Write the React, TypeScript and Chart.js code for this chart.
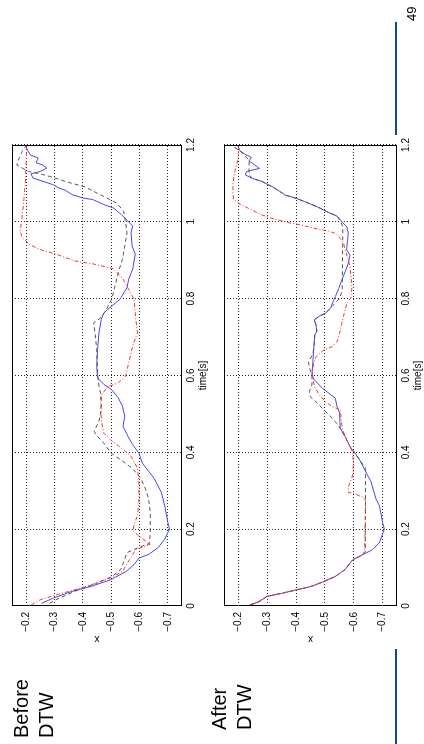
import React, { useEffect, useRef } from "react";
import { Chart, registerables } from "chart.js";

Chart.register(...registerables);

const FONT = "'Liberation Sans', Arial, Helvetica, sans-serif";

// ---- axes ----
const X_MIN = 0;
const X_MAX = 1.2;
const Y_MIN = -0.75;
const Y_MAX = -0.15;
const X_TICKS = [0, 0.2, 0.4, 0.6, 0.8, 1, 1.2];
const X_TICK_LABELS = ["0", "0.2", "0.4", "0.6", "0.8", "1", "1.2"];
const Y_TICKS = [-0.7, -0.6, -0.5, -0.4, -0.3, -0.2];
const Y_TICK_LABELS = ["\u22120.7", "\u22120.6", "\u22120.5", "\u22120.4", "\u22120.3", "\u22120.2"];
const X_TITLE = "time[s]";
const Y_TITLE = "x";

// ---- series: [time, x] ----
const BEFORE_BLUE: [number, number][] = [
  [0.007, -0.254], [0.02, -0.294], [0.038, -0.361], [0.051, -0.429], [0.068, -0.497], [0.09, -0.553],
  [0.108, -0.581], [0.125, -0.598], [0.134, -0.632], [0.152, -0.666], [0.174, -0.689], [0.2, -0.706],
  [0.218, -0.7], [0.261, -0.689], [0.296, -0.677], [0.332, -0.652], [0.372, -0.61], [0.398, -0.598],
  [0.42, -0.576], [0.442, -0.559], [0.468, -0.542], [0.494, -0.548], [0.52, -0.54], [0.542, -0.525],
  [0.563, -0.502], [0.577, -0.474], [0.594, -0.452], [0.624, -0.449], [0.668, -0.452], [0.711, -0.457],
  [0.746, -0.465], [0.763, -0.474], [0.781, -0.502], [0.798, -0.531], [0.829, -0.556], [0.851, -0.562],
  [0.877, -0.576], [0.916, -0.585], [0.937, -0.574], [0.972, -0.57], [0.989, -0.576], [1.004, -0.556],
  [1.019, -0.536], [1.036, -0.508], [1.045, -0.474], [1.058, -0.435], [1.062, -0.401], [1.071, -0.361],
  [1.082, -0.339], [1.088, -0.316], [1.097, -0.294], [1.108, -0.249], [1.114, -0.224], [1.125, -0.217],
  [1.131, -0.249], [1.14, -0.273], [1.148, -0.258], [1.154, -0.235], [1.166, -0.243], [1.174, -0.215],
  [1.185, -0.206], [1.198, -0.198],
];
const BEFORE_GRAY: [number, number][] = [
  [0.007, -0.282], [0.02, -0.316], [0.038, -0.37], [0.058, -0.445], [0.077, -0.503], [0.095, -0.534],
  [0.139, -0.556], [0.152, -0.596], [0.163, -0.635], [0.191, -0.638], [0.244, -0.638], [0.279, -0.632],
  [0.305, -0.621], [0.332, -0.605], [0.358, -0.575], [0.38, -0.535], [0.398, -0.5], [0.424, -0.474],
  [0.446, -0.446], [0.455, -0.44], [0.481, -0.457], [0.511, -0.465], [0.546, -0.465], [0.572, -0.457],
  [0.607, -0.452], [0.668, -0.449], [0.711, -0.443], [0.737, -0.438], [0.75, -0.463], [0.768, -0.48],
  [0.799, -0.502], [0.834, -0.514], [0.868, -0.525], [0.903, -0.54], [0.937, -0.548], [0.972, -0.556],
  [0.997, -0.551], [1.028, -0.544], [1.049, -0.519], [1.066, -0.474], [1.091, -0.407], [1.105, -0.339],
  [1.116, -0.294], [1.125, -0.249], [1.131, -0.209], [1.14, -0.186], [1.148, -0.167], [1.166, -0.175],
  [1.183, -0.186], [1.196, -0.198],
];
const BEFORE_RED: [number, number][] = [
  [0.003, -0.218], [0.016, -0.249], [0.029, -0.305], [0.04, -0.361], [0.055, -0.429], [0.073, -0.497],
  [0.09, -0.54], [0.121, -0.565], [0.147, -0.587], [0.161, -0.638], [0.182, -0.598], [0.196, -0.578],
  [0.213, -0.581], [0.235, -0.593], [0.27, -0.598], [0.323, -0.598], [0.358, -0.593], [0.39, -0.57],
  [0.411, -0.536], [0.433, -0.497], [0.45, -0.474], [0.485, -0.465], [0.546, -0.463], [0.57, -0.486],
  [0.581, -0.525], [0.598, -0.551], [0.633, -0.562], [0.677, -0.576], [0.711, -0.593], [0.746, -0.587],
  [0.798, -0.581], [0.851, -0.542], [0.878, -0.508], [0.89, -0.44], [0.898, -0.373], [0.916, -0.305],
  [0.928, -0.249], [0.941, -0.212], [0.959, -0.186], [0.976, -0.179], [1.015, -0.186], [1.058, -0.192],
  [1.109, -0.198], [1.161, -0.2], [1.196, -0.203],
];

const AFTER_BLUE: [number, number][] = [
  [0.003, -0.243], [0.011, -0.271], [0.025, -0.299], [0.033, -0.35], [0.042, -0.401], [0.051, -0.452],
  [0.064, -0.497], [0.077, -0.536], [0.095, -0.57], [0.112, -0.587], [0.121, -0.598], [0.134, -0.632],
  [0.147, -0.666], [0.165, -0.689], [0.2, -0.706], [0.218, -0.7], [0.261, -0.689], [0.279, -0.677],
  [0.323, -0.66], [0.346, -0.644], [0.38, -0.621], [0.398, -0.604], [0.415, -0.587], [0.441, -0.57],
  [0.463, -0.553], [0.502, -0.551], [0.519, -0.542], [0.541, -0.536], [0.567, -0.491], [0.589, -0.463],
  [0.602, -0.455], [0.623, -0.457], [0.667, -0.461], [0.706, -0.465], [0.715, -0.472], [0.732, -0.469],
  [0.745, -0.463], [0.754, -0.48], [0.762, -0.502], [0.775, -0.519], [0.797, -0.531], [0.805, -0.536],
  [0.827, -0.548], [0.849, -0.559], [0.87, -0.57], [0.892, -0.581], [0.914, -0.587], [0.927, -0.575],
  [0.948, -0.578], [0.97, -0.581], [0.987, -0.576], [1.0, -0.559], [1.015, -0.542], [1.026, -0.508],
  [1.039, -0.474], [1.053, -0.429], [1.061, -0.401], [1.07, -0.361], [1.079, -0.344], [1.092, -0.316],
  [1.105, -0.282], [1.113, -0.249], [1.122, -0.224], [1.131, -0.228], [1.139, -0.273], [1.152, -0.249],
  [1.159, -0.237], [1.168, -0.245], [1.177, -0.22], [1.187, -0.203], [1.2, -0.198],
];
const AFTER_GRAY: [number, number][] = [
  [0.003, -0.243], [0.011, -0.271], [0.025, -0.299], [0.033, -0.35], [0.042, -0.401], [0.051, -0.452],
  [0.064, -0.497], [0.077, -0.536], [0.095, -0.57], [0.112, -0.587], [0.121, -0.598], [0.134, -0.632],
  [0.14, -0.64], [0.358, -0.641], [0.38, -0.621], [0.398, -0.604], [0.415, -0.587], [0.441, -0.57],
  [0.463, -0.553], [0.48, -0.536], [0.502, -0.508], [0.528, -0.474], [0.545, -0.449], [0.558, -0.446],
  [0.576, -0.455], [0.597, -0.455], [0.623, -0.446], [0.636, -0.443], [0.654, -0.457], [0.667, -0.461],
  [0.706, -0.465], [0.715, -0.472], [0.732, -0.469], [0.745, -0.463], [0.754, -0.48], [0.762, -0.502],
  [0.78, -0.525], [0.8, -0.55], [0.82, -0.56], [0.987, -0.562], [1.0, -0.555], [1.015, -0.542],
  [1.026, -0.508], [1.039, -0.474], [1.053, -0.429], [1.061, -0.401], [1.07, -0.361], [1.079, -0.344],
  [1.092, -0.316], [1.105, -0.282], [1.113, -0.249], [1.122, -0.237], [1.161, -0.237], [1.174, -0.22],
  [1.187, -0.203], [1.196, -0.18],
];
const AFTER_RED: [number, number][] = [
  [0.003, -0.238], [0.011, -0.268], [0.025, -0.299], [0.033, -0.35], [0.042, -0.401], [0.051, -0.452],
  [0.064, -0.497], [0.077, -0.536], [0.095, -0.57], [0.112, -0.587], [0.121, -0.598], [0.134, -0.632],
  [0.143, -0.638], [0.275, -0.641], [0.283, -0.632], [0.292, -0.604], [0.296, -0.581], [0.31, -0.581],
  [0.332, -0.593], [0.349, -0.598], [0.38, -0.598], [0.4, -0.596], [0.415, -0.587], [0.441, -0.57],
  [0.463, -0.56], [0.511, -0.553], [0.519, -0.525], [0.532, -0.502], [0.55, -0.48], [0.57, -0.465],
  [0.589, -0.458], [0.61, -0.457], [0.632, -0.461], [0.649, -0.469], [0.667, -0.497], [0.675, -0.525],
  [0.688, -0.542], [0.71, -0.551], [0.736, -0.559], [0.762, -0.567], [0.788, -0.576], [0.805, -0.593],
  [0.84, -0.593], [0.883, -0.587], [0.901, -0.581], [0.927, -0.57], [0.944, -0.565], [0.957, -0.553],
  [0.97, -0.536], [0.976, -0.513], [0.984, -0.457], [0.993, -0.412], [0.997, -0.379], [1.01, -0.312],
  [1.019, -0.278], [1.036, -0.233], [1.049, -0.2], [1.059, -0.183], [1.074, -0.181], [1.1, -0.181],
  [1.126, -0.186], [1.144, -0.192], [1.161, -0.198], [1.178, -0.2], [1.196, -0.203],
];

const BLUE = "rgb(70,70,245)";
const GRAY = "rgb(85,85,85)";
const RED = "rgb(255,50,50)";
const GRID = "rgba(0,0,0,0.85)";
const SLIDE_BLUE = "#0b4a99";

const toPts = (s: [number, number][]) => s.map(([x, y]) => ({ x, y }));

const framePlugin = {
  id: "frame",
  afterDraw(chart: any) {
    const { ctx, chartArea: a } = chart;
    ctx.save();
    ctx.strokeStyle = "#000";
    ctx.lineWidth = 1;
    ctx.setLineDash([]);
    const l = Math.round(a.left) + 0.5;
    const t = Math.round(a.top) + 0.5;
    const r = Math.round(a.right) - 0.5;
    const b = Math.round(a.bottom) - 0.5;
    ctx.strokeRect(l, t, r - l, b - t);
    ctx.restore();
  },
};

type PanelProps = {
  blue: [number, number][];
  gray: [number, number][];
  red: [number, number][];
  width: number;
  height: number;
  padTop: number;
  style: React.CSSProperties;
};

function Panel({ blue, gray, red, width, height, padTop, style }: PanelProps) {
  const ref = useRef<HTMLCanvasElement | null>(null);
  useEffect(() => {
    if (!ref.current) return;
    const tickFont = { family: FONT, size: 10 };
    const chart = new Chart(ref.current, {
      type: "line",
      data: {
        datasets: [
          { data: toPts(red), borderColor: RED, borderWidth: 1, borderDash: [4, 2, 1, 2], pointRadius: 0, fill: false, tension: 0 },
          { data: toPts(gray), borderColor: GRAY, borderWidth: 1, borderDash: [4, 3], pointRadius: 0, fill: false, tension: 0 },
          { data: toPts(blue), borderColor: BLUE, borderWidth: 1, pointRadius: 0, fill: false, tension: 0 },
        ],
      },
      options: {
        animation: false,
        responsive: false,
        devicePixelRatio: 1,
        layout: { padding: { left: 95, right: 21, top: padTop, bottom: 0 } },
        plugins: { legend: { display: false }, tooltip: { enabled: false } },
        scales: {
          x: {
            type: "linear",
            min: X_MIN,
            max: X_MAX,
            afterBuildTicks: (s: any) => {
              s.ticks = X_TICKS.map((value) => ({ value }));
            },
            afterFit: (s: any) => {
              s.height = 27;
            },
            grid: { color: GRID, lineWidth: 1, drawTicks: false },
            border: { display: false, dash: [1, 2] },
            ticks: {
              padding: 3,
              color: "#000",
              font: tickFont,
              autoSkip: false,
              maxRotation: 0,
              callback: (_v: any, i: number) => X_TICK_LABELS[i],
            },
            title: { display: true, text: X_TITLE, color: "#000", font: tickFont, padding: { top: 0, bottom: 0 } },
          },
          y: {
            type: "linear",
            min: Y_MIN,
            max: Y_MAX,
            afterBuildTicks: (s: any) => {
              s.ticks = Y_TICKS.map((value) => ({ value }));
            },
            afterFit: (s: any) => {
              s.width = 43;
            },
            grid: { color: GRID, lineWidth: 1, drawTicks: false },
            border: { display: false, dash: [1, 2] },
            ticks: {
              padding: 6,
              color: "#000",
              font: tickFont,
              autoSkip: false,
              callback: (_v: any, i: number) => Y_TICK_LABELS[i],
            },
            title: { display: true, text: Y_TITLE, color: "#000", font: tickFont, padding: { top: 4, bottom: 0 } },
          },
        },
      },
      plugins: [framePlugin],
    } as any);
    return () => chart.destroy();
  }, []);
  return <canvas ref={ref} width={width} height={height} style={{ position: "absolute", width, height, ...style }} />;
}

const labelStyle: React.CSSProperties = {
  position: "absolute",
  fontFamily: FONT,
  fontSize: 20,
  lineHeight: "25px",
  color: "#000",
  whiteSpace: "nowrap",
};

export default function App() {
  return (
    <div
      style={{
        position: "fixed",
        left: 0,
        top: 0,
        width: 744,
        height: 424,
        background: "#fff",
        transformOrigin: "0 0",
        transform: "translateY(744px) rotate(-90deg)",
        overflow: "hidden",
      }}
    >
      <div style={{ ...labelStyle, left: 6, top: 9 }}>
        Before
        <br />
        DTW
      </div>
      <div style={{ ...labelStyle, left: 14, top: 207 }}>
        After
        <br />
        DTW
      </div>
      <Panel blue={BEFORE_BLUE} gray={BEFORE_GRAY} red={BEFORE_RED} width={620} height={209} padTop={4} style={{ left: 0, top: 0 }} />
      <Panel blue={AFTER_BLUE} gray={AFTER_GRAY} red={AFTER_RED} width={620} height={212} padTop={7} style={{ left: 0, top: 212 }} />
      <div style={{ position: "absolute", left: 0, top: 395, width: 95, height: 2, background: SLIDE_BLUE }} />
      <div style={{ position: "absolute", left: 609, top: 395, width: 113, height: 2, background: SLIDE_BLUE }} />
      <div style={{ position: "absolute", left: 723, top: 405, fontFamily: FONT, fontSize: 13, lineHeight: "13px", color: "#000" }}>49</div>
    </div>
  );
}
